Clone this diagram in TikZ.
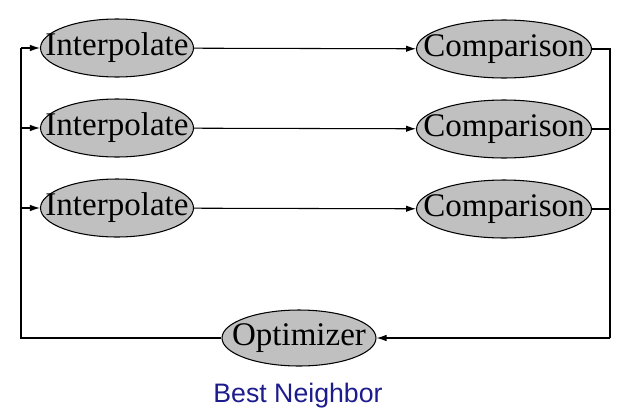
\documentclass[tikz,border=0pt]{standalone}
\usepackage{fontspec}
\setmainfont{Liberation Serif}
\newfontfamily\labelfont{Liberation Sans}
\definecolor{nodegray}{RGB}{192,192,192}
\definecolor{labelblue}{RGB}{28,28,140}
\usetikzlibrary{arrows.meta,positioning,shapes.geometric,calc}
% text that does not widen its ellipse
\newcommand{\thin}[1]{\makebox[0pt]{#1}}

\begin{document}
\begin{tikzpicture}[x=0.02cm, y=-0.02cm,
  every node/.style={inner sep=0pt},
  blob/.style={ellipse, draw=black, line width=0.6pt, fill=nodegray,
               font=\fontsize{18.8}{20}\selectfont, minimum height=1.16cm},
  wire/.style={line width=0.6pt, black},
  arr/.style={wire, -{Latex[length=2mm, width=1.3mm]}},
]
\useasboundingbox (0,0) rectangle (631,419);

% Interpolate column
\node[blob, minimum width=3.06cm] (i1) at (117,48)  {\thin{Interpolate}};
\node[blob, minimum width=3.06cm] (i2) at (117,128) {\thin{Interpolate}};
\node[blob, minimum width=3.06cm] (i3) at (117,208) {\thin{Interpolate}};

% Comparison column
\node[blob, minimum width=3.5cm] (c1) at (504,49)  {\thin{Comparison}};
\node[blob, minimum width=3.5cm] (c2) at (504,129) {\thin{Comparison}};
\node[blob, minimum width=3.5cm] (c3) at (504,209) {\thin{Comparison}};

% Optimizer and caption
\node[blob, minimum width=3.08cm, minimum height=1.12cm] (opt) at (299,338) {\thin{Optimizer}};
\node[font=\labelfont\fontsize{15.2}{17}\selectfont, text=labelblue] (cap) at (298,396) {Best Neighbor};

% corners of the feedback loop
\coordinate (rt) at (610,338);
\coordinate (lt) at (21,338);

% forward arrows
\draw[arr] (i1) -- (c1);
\draw[arr] (i2) -- (c2);
\draw[arr] (i3) -- (c3);

% collect on the right
\draw[wire] (c1.east) -| (rt);
\draw[wire] (c2.east) -- (c2.east -| rt);
\draw[wire] (c3.east) -- (c3.east -| rt);
\draw[arr] (rt) -- (opt.east);

% feed back on the left
\draw[wire] (opt.west) -- (lt) -- (lt |- i1.west);
\draw[arr] (lt |- i1.west) -- (i1.west);
\draw[arr] (lt |- i2.west) -- (i2.west);
\draw[arr] (lt |- i3.west) -- (i3.west);

\end{tikzpicture}
\end{document}
